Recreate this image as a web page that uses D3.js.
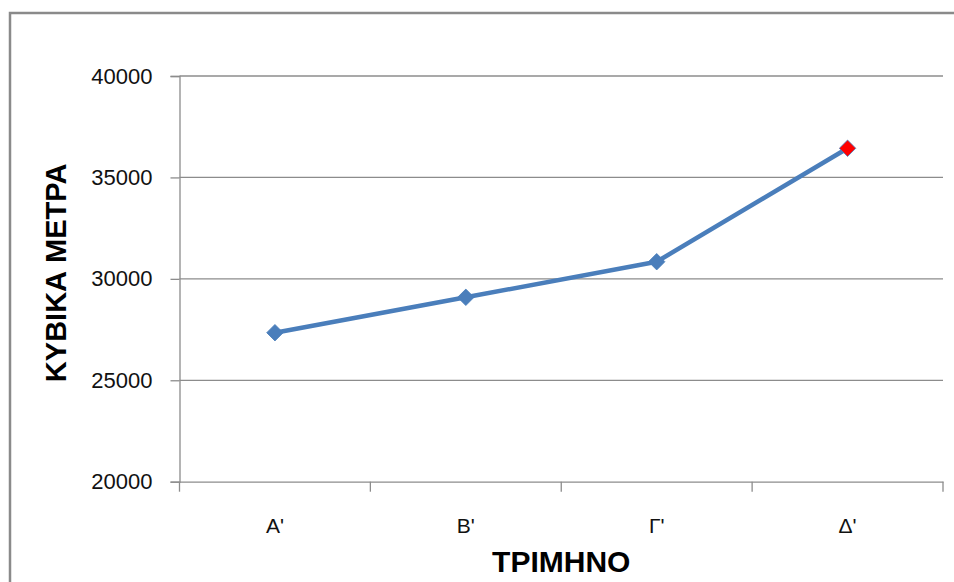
<!DOCTYPE html>
<html>
<head>
<meta charset="utf-8">
<script src="https://cdn.jsdelivr.net/npm/d3@7"></script>
<style>
  html, body { margin: 0; padding: 0; background: #fff; }
  svg { display: block; }
</style>
</head>
<body>
<svg id="chart" width="954" height="582"></svg>
<script>
const categories = ["Α'", "Β'", "Γ'", "Δ'"];
const values = [27345, 29090, 30845, 36436];
const yTicks = [20000, 25000, 30000, 35000, 40000];
const markerColors = ["#4A7EBB", "#4A7EBB", "#4A7EBB", "#FF0000"];
const yTitle = "ΚΥΒΙΚΑ ΜΕΤΡΑ";
const xTitle = "ΤΡΙΜΗΝΟ";

(function () {
const svg = d3.select("#chart");
const W = 954, H = 582;
const pLeft = 179.5, pRight = 943, pTop = 76, pBottom = 481.7;

svg.append("rect").attr("x", 0).attr("y", 0).attr("width", W).attr("height", H).attr("fill", "#fff");
// chart frame
svg.append("rect").attr("x", 10).attr("y", 13).attr("width", 1100).attr("height", 1000)
  .attr("fill", "none").attr("stroke", "#8a8a8a").attr("stroke-width", 2.5);

const x = d3.scaleBand().domain(categories).range([pLeft, pRight]).padding(0);
const y = d3.scaleLinear().domain([20000, 40000]).range([pBottom, pTop]);

// gridlines
svg.append("g").selectAll("line").data(yTicks.filter(d => d > 20000)).join("line")
  .attr("x1", pLeft).attr("x2", pRight)
  .attr("y1", d => y(d)).attr("y2", d => y(d))
  .attr("stroke", "#8c8c8c").attr("stroke-width", 1.3);

// y axis
const yAxis = d3.axisLeft(y).tickValues(yTicks).tickSize(9).tickPadding(18).tickFormat(d3.format("d"));
const gy = svg.append("g").attr("transform", `translate(${pLeft},0)`).call(yAxis);
gy.select(".domain").attr("stroke", "#8c8c8c").attr("stroke-width", 1.3);
gy.selectAll(".tick line").attr("stroke", "#8c8c8c").attr("stroke-width", 1.3);
gy.selectAll(".tick text").attr("font-family", "'Liberation Sans', Arial, sans-serif")
  .attr("font-size", 22).attr("fill", "#111");

// x axis
const xAxis = d3.axisBottom(x).tickSize(0).tickPadding(36);
const gx = svg.append("g").attr("transform", `translate(0,${pBottom})`).call(xAxis);
gx.select(".domain").attr("stroke", "#8c8c8c").attr("stroke-width", 1.3);
gx.selectAll(".tick text").attr("font-family", "'Liberation Sans', Arial, sans-serif")
  .attr("font-size", 21).attr("fill", "#111");
// category boundary ticks
const bounds = categories.map(c => x(c)).concat([x(categories[categories.length - 1]) + x.bandwidth()]);
gx.append("g").selectAll("line").data(bounds).join("line")
  .attr("x1", d => d).attr("x2", d => d).attr("y1", 0).attr("y2", 10)
  .attr("stroke", "#8c8c8c").attr("stroke-width", 1.3);

// line
const cx = c => x(c) + x.bandwidth() / 2;
const data = categories.map((c, i) => ({ c, v: values[i], col: markerColors[i] }));
svg.append("path").datum(data)
  .attr("d", d3.line().x(d => cx(d.c)).y(d => y(d.v)))
  .attr("fill", "none").attr("stroke", "#4A7EBB").attr("stroke-width", 4.5)
  .attr("stroke-linejoin", "round");

// markers
const diamond = d3.symbol().type(d3.symbolSquare).size(135);
svg.append("g").selectAll("path").data(data).join("path")
  .attr("d", diamond)
  .attr("transform", d => `translate(${cx(d.c)},${y(d.v)}) rotate(45)`)
  .attr("fill", d => d.col)
  .attr("stroke", "#4A7EBB").attr("stroke-width", 0.8);

// titles
svg.append("text")
  .attr("transform", `translate(66,${(pTop + pBottom) / 2 - 6}) rotate(-90)`)
  .attr("text-anchor", "middle")
  .attr("font-family", "'Liberation Sans', Arial, sans-serif")
  .attr("font-weight", "bold").attr("font-size", 29).attr("fill", "#000")
  .text(yTitle);

svg.append("text")
  .attr("x", (pLeft + pRight) / 2).attr("y", 571.5)
  .attr("text-anchor", "middle")
  .attr("font-family", "'Liberation Sans', Arial, sans-serif")
  .attr("font-weight", "bold").attr("font-size", 30).attr("fill", "#000")
  .text(xTitle);
})();
</script>
</body>
</html>
